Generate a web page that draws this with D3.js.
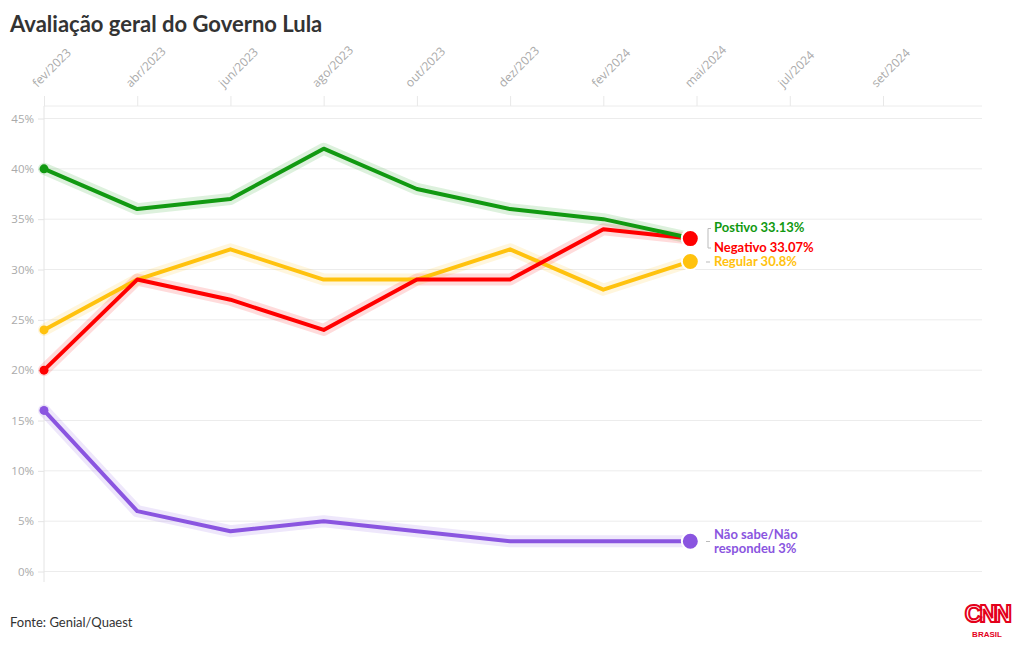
<!DOCTYPE html>
<html><head><meta charset="utf-8">
<script src="https://cdn.jsdelivr.net/npm/d3@7"></script>
<style>
body{margin:0;background:#fff;}
svg{display:block;font-family:Lato,"Noto Sans",sans-serif;}
</style></head>
<body><svg id="c" width="1020" height="650"></svg>
<script>
// ---- data ----
const tickLabels = ["fev/2023","abr/2023","jun/2023","ago/2023","out/2023","dez/2023","fev/2024","mai/2024","jul/2024","set/2024"];
const tickDates = ["2023-02-01","2023-04-01","2023-06-01","2023-08-01","2023-10-01","2023-12-01","2024-02-01","2024-05-01","2024-07-01","2024-09-01"];
const pollDates = ["2023-02-01","2023-04-01","2023-06-01","2023-08-01","2023-10-01","2023-12-01","2024-02-01","2024-04-25"];
const positivo = [40,36,37,42,38,36,35,33.13];
const negativo = [20,29,27,24,29,29,34,33.07];
const regular  = [24,29,32,29,29,32,28,30.8];
const naoSabe  = [16,6,4,5,4,3,3,3];
const yTicks = [0,5,10,15,20,25,30,35,40,45];
const seriesColors = ["#119911","#ff0000","#ffc20e","#8a55e0"];

const series = [
  {name:"Postivo", values:positivo, color:seriesColors[0], label:["Postivo 33.13%"], ly:[232]},
  {name:"Negativo", values:negativo, color:seriesColors[1], label:["Negativo 33.07%"], ly:[252]},
  {name:"Regular", values:regular, color:seriesColors[2], label:["Regular 30.8%"], ly:[266]},
  {name:"Não sabe", values:naoSabe, color:seriesColors[3], label:["Não sabe/Não","respondeu 3%"], ly:[538.5,553]}
];

const svg = d3.select("#c");
const parse = d3.utcParse("%Y-%m-%d");
const tickD = tickDates.map(parse);
const x0 = 44, step = 93.22;
const x = d3.scaleUtc().domain(tickD).range(tickD.map((d,i)=>x0+i*step));
const y = d3.scaleLinear().domain([0,45]).range([571.5,118.5]);
const plotTop = 106, plotBottom = 582, plotRight = 982;

// title
svg.append("text").attr("x",10).attr("y",32).attr("font-size",22).attr("font-weight",700)
  .attr("fill","#333").text("Avaliação geral do Governo Lula");

// grid
const g = svg.append("g");
g.selectAll(".gl").data(yTicks).join("line")
  .attr("x1",x0).attr("x2",plotRight).attr("y1",d=>y(d)).attr("y2",d=>y(d))
  .attr("stroke","#ececec").attr("stroke-width",1);
g.append("line").attr("x1",x0).attr("x2",plotRight).attr("y1",plotTop).attr("y2",plotTop).attr("stroke","#ececec");
g.append("line").attr("x1",x0).attr("x2",x0).attr("y1",plotTop).attr("y2",plotBottom).attr("stroke","#e4e4e4");

// y axis
const yAxis = d3.axisLeft(y).tickValues(yTicks).tickFormat(d=>d+"%").tickSize(6).tickPadding(4);
const ya = svg.append("g").attr("transform",`translate(${x0},0)`).call(yAxis);
ya.select(".domain").remove();
ya.selectAll("line").attr("stroke","#e4e4e4");
ya.selectAll("text").attr("fill","#aaa").attr("font-size",11.5).attr("font-family","'Open Sans',sans-serif");

// x axis (top)
const xAxis = d3.axisTop(x).tickValues(tickD).tickFormat((d,i)=>tickLabels[i]).tickSize(10).tickPadding(0);
const xa = svg.append("g").attr("transform",`translate(0,${plotTop})`).call(xAxis);
xa.select(".domain").remove();
xa.selectAll("line").attr("stroke","#e8e8e8");
xa.selectAll("text").attr("fill","#aaa").attr("font-size",12).attr("font-family","'Open Sans',sans-serif")
  .attr("text-anchor","start").attr("dy",0)
  .attr("transform","translate(0,-11) rotate(-45)");

// lines
const pd = pollDates.map(parse);
const line = d3.line().x((d,i)=>x(pd[i])).y(d=>y(d));
const order = [3,2,1,0];
const lg = svg.append("g");
order.forEach(k=>{
  const s = series[k];
  lg.append("path").attr("d",line(s.values)).attr("fill","none").attr("stroke",s.color)
    .attr("stroke-opacity",0.14).attr("stroke-width",12).attr("stroke-linejoin","round").attr("stroke-linecap","round");
});
order.forEach(k=>{
  const s = series[k];
  lg.append("path").attr("d",line(s.values)).attr("fill","none").attr("stroke",s.color)
    .attr("stroke-width",4).attr("stroke-linejoin","round");
  lg.append("circle").attr("cx",x(pd[0])).attr("cy",y(s.values[0])).attr("r",4.5).attr("fill",s.color);
});
[3,2,0,1].forEach(k=>{
  const s = series[k];
  const n = s.values.length-1;
  lg.append("circle").attr("cx",x(pd[n])).attr("cy",y(s.values[n])).attr("r",8.5)
    .attr("fill",s.color).attr("stroke","#fff").attr("stroke-width",2);
});

// labels
const lx = 714;
series.forEach(s=>{
  s.label.forEach((t,j)=>{
    svg.append("text").attr("x",lx).attr("y",s.ly[j]).attr("font-size",13).attr("font-weight",700)
      .attr("fill",s.color).text(t);
  });
});
// connectors
svg.append("path").attr("d","M711,228.5 H708 V248 H711").attr("fill","none").attr("stroke","#bbb").attr("stroke-width",1);
svg.append("line").attr("x1",706).attr("x2",710).attr("y1",262).attr("y2",262).attr("stroke","#bbb");
svg.append("line").attr("x1",706).attr("x2",710).attr("y1",541.5).attr("y2",541.5).attr("stroke","#bbb");

// source
svg.append("text").attr("x",10).attr("y",627).attr("font-size",13).attr("fill","#333").text("Fonte: Genial/Quaest");

// logo
svg.append("text").attr("x",987).attr("y",622).attr("text-anchor","middle").attr("font-size",24).attr("font-weight",900)
  .attr("font-family","'Liberation Sans',Arial,sans-serif").attr("letter-spacing",-2.5)
  .attr("fill","#fff").attr("stroke","#e4001b").attr("stroke-width",2).text("CNN");
svg.append("text").attr("x",987).attr("y",637).attr("text-anchor","middle").attr("font-size",8).attr("font-weight",700)
  .attr("font-family","'Liberation Sans',Arial,sans-serif").attr("fill","#e4001b").text("BRASIL");
</script></body></html>
